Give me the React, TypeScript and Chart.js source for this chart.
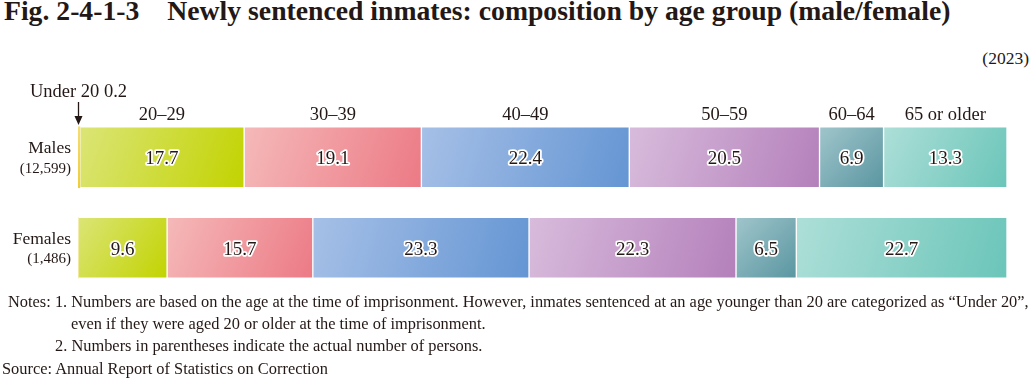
import React, { useEffect, useRef } from "react";
import { Chart, registerables } from "chart.js";

Chart.register(...registerables);

const categories = ["Males", "Females"];
const categoryCounts = ["(12,599)", "(1,486)"];
const ageGroups = ["Under 20", "20–29", "30–39", "40–49", "50–59", "60–64", "65 or older"];
const maleValues = [0.2, 17.7, 19.1, 22.4, 20.5, 6.9, 13.3];
const femaleValues = [0, 9.6, 15.7, 23.3, 22.3, 6.5, 22.7];
const gradientStops = [
  ["#f6dc74", "#f0cc3c"],
  ["#dbe577", "#c2d300"],
  ["#f5b9b9", "#ec7a85"],
  ["#a6c0e7", "#6495d3"],
  ["#d8bcdc", "#b480bb"],
  ["#a0c5cb", "#5a96a1"],
  ["#addfd8", "#6bc5b9"],
];

const TEXT = "#231815";
const SERIF = '"Liberation Serif", "Times New Roman", serif';
const BAR = 61;

function makeGradient(c: any, di: number) {
  const chart = c.chart;
  const xs = chart.scales?.x;
  const ys = chart.scales?.y;
  const idx = c.dataIndex ?? 0;
  const stops = gradientStops[di];
  if (!xs || !ys || xs.width === undefined) return stops[1];
  const series = idx === 0 ? maleValues : femaleValues;
  let start = 0;
  for (let k = 0; k < di; k++) start += series[k];
  const end = start + series[di];
  const x0 = xs.getPixelForValue(start);
  const x1 = xs.getPixelForValue(end);
  const yc = ys.getPixelForValue(idx);
  if (!isFinite(x0) || !isFinite(x1) || !isFinite(yc)) return stops[1];
  const g = chart.ctx.createLinearGradient(x0, yc - BAR / 2, x1, yc + BAR / 2);
  g.addColorStop(0, stops[0]);
  g.addColorStop(1, stops[1]);
  return g;
}

const labelsPlugin = {
  id: "customLabels",
  afterDatasetsDraw(chart: any) {
    const ctx = chart.ctx;
    ctx.save();
    // values inside bars
    ctx.font = `19px ${SERIF}`;
    ctx.textAlign = "center";
    ctx.textBaseline = "alphabetic";
    ctx.lineJoin = "round";
    chart.data.datasets.forEach((ds: any, di: number) => {
      const meta = chart.getDatasetMeta(di);
      meta.data.forEach((el: any, i: number) => {
        const v = ds.data[i];
        if (!v || v < 1) return;
        const cx = (el.x + el.base) / 2;
        const cy = el.y + 7;
        const txt = v.toFixed(1);
        ctx.lineWidth = 3.5;
        ctx.strokeStyle = "#ffffff";
        ctx.strokeText(txt, cx, cy);
        ctx.fillStyle = TEXT;
        ctx.fillText(txt, cx, cy);
      });
    });

    // header labels above male segments
    ctx.font = `18.5px ${SERIF}`;
    ctx.fillStyle = TEXT;
    ctx.textAlign = "center";
    for (let di = 1; di < ageGroups.length; di++) {
      const el = chart.getDatasetMeta(di).data[0];
      ctx.fillText(ageGroups[di], (el.x + el.base) / 2, 120);
    }
    // Under 20 annotation
    const u = chart.getDatasetMeta(0).data[0];
    const ux = Math.round((u.x + u.base) / 2) - 0.5;
    ctx.textAlign = "left";
    ctx.fillText(`${ageGroups[0]} ${maleValues[0].toFixed(1)}`, 30, 97);
    ctx.strokeStyle = TEXT;
    ctx.lineWidth = 1.3;
    ctx.beginPath();
    ctx.moveTo(ux, 102);
    ctx.lineTo(ux, 118);
    ctx.stroke();
    ctx.fillStyle = TEXT;
    ctx.beginPath();
    ctx.moveTo(ux - 4, 116);
    ctx.lineTo(ux + 4, 116);
    ctx.lineTo(ux, 125);
    ctx.closePath();
    ctx.fill();

    // category labels
    const ys = chart.scales.y;
    ctx.textAlign = "right";
    categories.forEach((cat, i) => {
      const yc = ys.getPixelForValue(i);
      ctx.font = `17.5px ${SERIF}`;
      ctx.fillText(cat, 71, yc - 4);
      ctx.font = `15px ${SERIF}`;
      ctx.fillText(categoryCounts[i], 71, yc + 15.5);
    });
    ctx.restore();
  },
};

export default function App() {
  const ref = useRef<HTMLCanvasElement | null>(null);
  useEffect(() => {
    if (!ref.current) return;
    const chart = new Chart(ref.current, {
      type: "bar",
      data: {
        labels: categories,
        datasets: ageGroups.map((g, di) => ({
          label: g,
          data: [maleValues[di], femaleValues[di]],
          backgroundColor: (c: any) => makeGradient(c, di),
          borderColor: "rgba(255,255,255,0.9)",
          borderWidth: (c: any) => (di === 0 || !c.raw ? 0 : 1),
          borderSkipped: false,
          barThickness: BAR,
        })),
      },
      options: {
        indexAxis: "y",
        responsive: false,
        maintainAspectRatio: false,
        animation: false,
        layout: { padding: { left: 78, right: 23, top: 112, bottom: 87 } },
        scales: {
          x: { stacked: true, min: 0, max: 100.1, display: false },
          y: { stacked: true, display: false },
        },
        plugins: {
          legend: { display: false },
          tooltip: { enabled: false },
          title: { display: false },
        },
      },
      plugins: [labelsPlugin],
    } as any);
    return () => chart.destroy();
  }, []);

  const base: React.CSSProperties = {
    position: "absolute",
    fontFamily: SERIF,
    color: TEXT,
    whiteSpace: "nowrap",
    margin: 0,
  };
  const note: React.CSSProperties = { ...base, fontSize: 16.4, lineHeight: "16.4px" };

  return (
    <div style={{ position: "absolute", left: 0, top: 0, width: 1030, height: 380, background: "#fff", overflow: "hidden" }}>
      <div style={{ ...base, left: 4, top: -2.6, fontSize: 27.7, lineHeight: "27.7px", fontWeight: "bold" }}>
        Fig. 2-4-1-3<span style={{ marginLeft: 28 }}>Newly sentenced inmates: composition by age group (male/female)</span>
      </div>
      <div style={{ ...base, right: 1, top: 50.3, fontSize: 17.5, lineHeight: "17.5px" }}>(2023)</div>
      <canvas ref={ref} width={1030} height={380} style={{ position: "absolute", left: 0, top: 0, width: 1030, height: 380 }} />
      <div style={{ ...note, left: 8, top: 294.3 }}>
        Notes: 1. Numbers are based on the age at the time of imprisonment. However, inmates sentenced at an age younger than 20 are categorized as “Under 20”,
      </div>
      <div style={{ ...note, left: 71, top: 316.3 }}>even if they were aged 20 or older at the time of imprisonment.</div>
      <div style={{ ...note, left: 55, top: 338.3 }}>2. Numbers in parentheses indicate the actual number of persons.</div>
      <div style={{ ...note, left: 2, top: 361.3 }}>Source: Annual Report of Statistics on Correction</div>
    </div>
  );
}
